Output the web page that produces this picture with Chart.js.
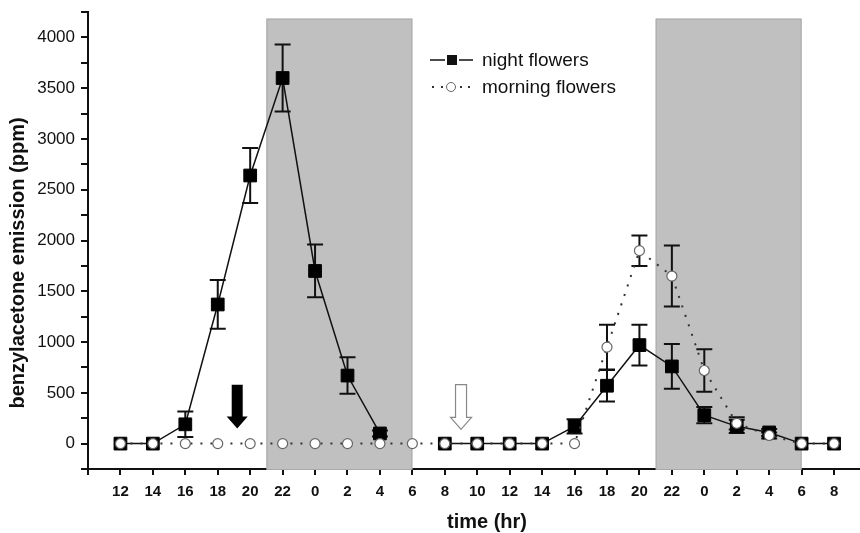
<!DOCTYPE html>
<html>
<head>
<meta charset="utf-8">
<script src="https://cdn.jsdelivr.net/npm/chart.js@4.4.0/dist/chart.umd.min.js"></script>
<style>
  html, body { margin: 0; padding: 0; background: #fff; }
  #wrap { width: 860px; height: 533px; }
</style>
</head>
<body>
<div id="wrap"><canvas id="myChart"></canvas></div>
<script>
// hours counted from 12:00 on the first day
const hours = [0, 2, 4, 6, 8, 10, 12, 14, 16, 18, 20, 22, 24, 26, 28, 30, 32, 34, 36, 38, 40, 42, 44];
const clockLabels = ["12", "14", "16", "18", "20", "22", "0", "2", "4", "6", "8", "10", "12", "14", "16", "18", "20", "22", "0", "2", "4", "6", "8"];

// night flowers (null = not measured)
const nightHours = [0, 2, 4, 6, 8, 10, 12, 14, 16, 18, 20, 22, 24, 26, 28, 30, 32, 34, 36, 38, 40, 42, 44];
const nightValues = [0, 0, 190, 1370, 2640, 3600, 1700, 670, 100, null, 0, 0, 0, 0, 170, 570, 970, 760, 280, 170, 110, 0, 0];
const nightErrors = [0, 0, 125, 240, 270, 330, 260, 180, 30, 0, 0, 0, 0, 0, 70, 155, 200, 220, 80, 65, 35, 0, 0];

// morning flowers
const morningHours = [0, 2, 4, 6, 8, 10, 12, 14, 16, 18, 20, 22, 24, 26, 28, 30, 32, 34, 36, 38, 40, 42, 44];
const morningValues = [0, 0, 0, 0, 0, 0, 0, 0, 0, 0, 0, 0, 0, 0, 0, 950, 1900, 1650, 720, 200, 80, 0, 0];
const morningErrors = [0, 0, 0, 0, 0, 0, 0, 0, 0, 0, 0, 0, 0, 0, 0, 220, 150, 300, 210, 60, 30, 0, 0];

// dark periods (hours) and arrows (hour, top value, bottom value)
const darkPeriods = [[9, 18], [33, 42]];
const darkTop = 4185;
const arrows = [{ x: 7.2, top: 580, bottom: 150, filled: true }, { x: 21, top: 580, bottom: 140, filled: false }];

const yTitle = "benzylacetone emission (ppm)";
const xTitle = "time (hr)";

const fontFam = '"Liberation Sans", Arial, sans-serif';

const toPoints = (xs, ys) => xs.map((x, i) => ({ x: x, y: ys[i] }));

//shaded boxes behind the data
const boxPlugin = {
  id: 'boxes',
  beforeDatasetsDraw(chart) {
    const { ctx, scales: { x, y } } = chart;
    ctx.save();
    darkPeriods.forEach(p => {
      const x0 = x.getPixelForValue(p[0]);
      const x1 = x.getPixelForValue(p[1]);
      const y0 = y.getPixelForValue(darkTop);
      const y1 = y.bottom;
      ctx.fillStyle = '#c0c0c0';
      ctx.fillRect(x0, y0, x1 - x0, y1 - y0);
      ctx.strokeStyle = '#a9a9a9';
      ctx.lineWidth = 1;
      ctx.strokeRect(x0 + 0.5, y0 + 0.5, x1 - x0 - 1, y1 - y0);
    });
    // error bars
    const drawErr = (xs, vals, errs) => {
      xs.forEach((h, i) => {
        if (!errs[i] || vals[i] === null) return;
        const px = x.getPixelForValue(h);
        const pt = y.getPixelForValue(vals[i] + errs[i]);
        const pb = y.getPixelForValue(vals[i] - errs[i]);
        ctx.beginPath();
        ctx.moveTo(px, pt); ctx.lineTo(px, pb);
        ctx.moveTo(px - 8, pt); ctx.lineTo(px + 8, pt);
        ctx.moveTo(px - 8, pb); ctx.lineTo(px + 8, pb);
        ctx.stroke();
      });
    };
    ctx.strokeStyle = '#111';
    ctx.lineWidth = 2;
    drawErr(nightHours, nightValues, nightErrors);
    drawErr(morningHours, morningValues, morningErrors);
    ctx.restore();
  }
};

// arrows, legend and axis titles on top
const overlayPlugin = {
  id: 'overlay',
  afterDraw(chart) {
    const { ctx, scales: { x, y } } = chart;
    ctx.save();
    arrows.forEach(a => {
      const cx = x.getPixelForValue(a.x);
      const yt = y.getPixelForValue(a.top);
      const yb = y.getPixelForValue(a.bottom);
      const yh = yb - 12;
      ctx.beginPath();
      ctx.moveTo(cx - 5.5, yt);
      ctx.lineTo(cx + 5.5, yt);
      ctx.lineTo(cx + 5.5, yh);
      ctx.lineTo(cx + 10.5, yh);
      ctx.lineTo(cx, yb);
      ctx.lineTo(cx - 10.5, yh);
      ctx.lineTo(cx - 5.5, yh);
      ctx.closePath();
      if (a.filled) {
        ctx.fillStyle = '#000';
        ctx.fill();
      } else {
        ctx.fillStyle = '#fff';
        ctx.fill();
        ctx.strokeStyle = '#888';
        ctx.lineWidth = 1.2;
        ctx.stroke();
      }
    });

    // legend
    ctx.font = '19px ' + fontFam;
    ctx.fillStyle = '#111';
    ctx.textBaseline = 'middle';
    ctx.strokeStyle = '#111';
    ctx.lineWidth = 1.5;
    ctx.beginPath();
    ctx.moveTo(430, 60); ctx.lineTo(445, 60);
    ctx.moveTo(459, 60); ctx.lineTo(473, 60);
    ctx.stroke();
    ctx.fillRect(447, 55, 10, 10);
    ctx.fillText('night flowers', 482, 61);

    ctx.fillStyle = '#333';
    [432, 441, 460, 468].forEach(dx => ctx.fillRect(dx, 86, 2, 2));
    ctx.beginPath();
    ctx.arc(451, 87, 4.5, 0, Math.PI * 2);
    ctx.fillStyle = '#fff';
    ctx.fill();
    ctx.strokeStyle = '#666';
    ctx.lineWidth = 1;
    ctx.stroke();
    ctx.fillStyle = '#111';
    ctx.fillText('morning flowers', 482, 88);

    // axis titles
    ctx.font = 'bold 20px ' + fontFam;
    ctx.textAlign = 'center';
    ctx.fillText(xTitle, 487, 522);
    ctx.translate(18, 263);
    ctx.rotate(-Math.PI / 2);
    ctx.fillText(yTitle, 0, 0);
    ctx.restore();
  }
};

var ctx = document.getElementById("myChart").getContext("2d");
var myChart = new Chart(ctx, {
  type: "line",
  data: {
    datasets: [
      {
        label: "morning flowers",
        data: toPoints(morningHours, morningValues),
        borderColor: "#333",
        borderWidth: 2,
        borderDash: [2, 8],
        pointStyle: "circle",
        pointRadius: 5,
        pointBackgroundColor: "#fff",
        pointBorderColor: "#666",
        pointBorderWidth: 1.2,
        tension: 0,
      },
      {
        label: "night flowers",
        data: toPoints(nightHours, nightValues),
        borderColor: "#111",
        borderWidth: 1.5,
        pointStyle: "rect",
        pointRadius: 9,
        pointBackgroundColor: "#000",
        pointBorderColor: "#000",
        pointBorderWidth: 1,
        spanGaps: false,
        tension: 0,
      },
    ],
  },
  options: {
    responsive: true,
    maintainAspectRatio: false,
    animation: false,
    layout: { autoPadding: false, padding: { top: 12, right: 0, left: 0, bottom: 0 } },
    plugins: { legend: { display: false }, tooltip: { enabled: false } },
    scales: {
      x: {
        type: "linear",
        min: -2,
        max: 45.6,
        afterBuildTicks: s => { s.ticks = s.ticks.filter(t => t.value % 2 === 0); },
        afterFit: s => { s.height = 64; s.paddingLeft = 0; s.paddingRight = 0; },
        ticks: {
          stepSize: 2,
          includeBounds: false,
          autoSkip: false,
          maxRotation: 0,
          padding: 8,
          color: "#111",
          font: { family: fontFam, size: 15, weight: "bold" },
          callback: v => {
            const i = hours.indexOf(v);
            return i < 0 ? "" : clockLabels[i];
          },
        },
        grid: { drawOnChartArea: false, tickLength: 6, color: "#111", lineWidth: 2 },
        border: { color: "#111", width: 2 },
      },
      y: {
        min: -250,
        max: 4250,
        afterFit: s => { s.width = 88; s.paddingTop = 0; s.paddingBottom = 0; },
        ticks: {
          stepSize: 250,
          autoSkip: false,
          padding: 6,
          color: "#111",
          font: { family: fontFam, size: 17 },
          callback: v => (v >= 0 && v % 500 === 0 ? String(v) : ""),
        },
        grid: { drawOnChartArea: false, tickLength: 7, color: "#111", lineWidth: 2 },
        border: { color: "#111", width: 2 },
      },
    },
  },
  plugins: [boxPlugin, overlayPlugin],
});
</script>
</body>
</html>
